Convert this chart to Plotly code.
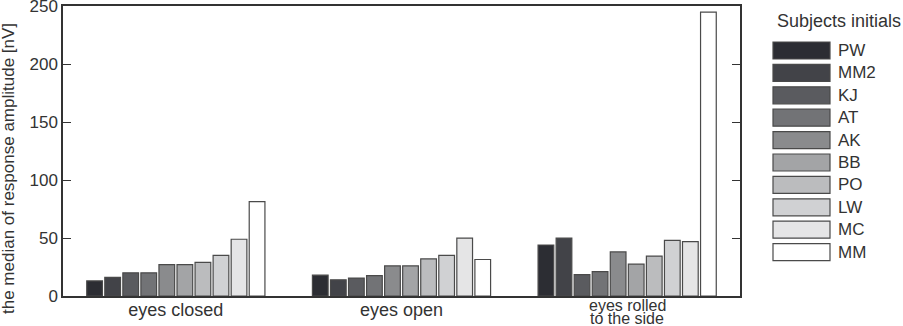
import plotly.graph_objects as go

categories = ["eyes closed", "eyes open", "eyes rolled"]
tick_text = ["eyes closed", "eyes open", ""]
rolled_lines = ["eyes rolled", "to the side"]
subjects = ["PW", "MM2", "KJ", "AT", "AK", "BB", "PO", "LW", "MC", "MM"]
values = {
    "PW":  [13, 18, 44],
    "MM2": [16, 14, 50],
    "KJ":  [20, 15.5, 18.5],
    "AT":  [20, 17.5, 21],
    "AK":  [27, 26, 38],
    "BB":  [27, 26, 27.5],
    "PO":  [29, 32, 34.5],
    "LW":  [35, 35, 48],
    "MC":  [49, 50, 47],
    "MM":  [81.5, 31.5, 245],
}
colors = ["#2c2d33", "#424348", "#5a5b5f", "#727376", "#8a8b8d",
          "#a3a4a6", "#bbbcbe", "#d0d1d3", "#e5e5e6", "#ffffff"]
y_ticks = [0, 50, 100, 150, 200, 250]
y_title = "the median of response amplitude [nV]"
legend_title = "Subjects initials"

W, H = 903, 326
ML, MR, MT, MB = 63, 163, 6, 30
PW_ = W - ML - MR
PH_ = H - MT - MB

def px_x(x):
    return (x - ML) / PW_

def px_y(y):
    return (H - MB - y) / PH_

fig = go.Figure()
for s, c in zip(subjects, colors):
    fig.add_trace(go.Bar(
        x=categories, y=values[s], name=s,
        marker=dict(color=c, line=dict(color="#4a4a4a", width=1.2)),
        showlegend=False,
    ))

axis_col = "#333333"
fig.update_layout(
    width=W, height=H,
    margin=dict(l=ML, r=MR, t=MT, b=MB, autoexpand=False),
    paper_bgcolor="white", plot_bgcolor="white",
    barmode="group", bargap=0.2, bargroupgap=0.13,
    font=dict(family="Liberation Sans, Arial", color=axis_col),
    xaxis=dict(
        showline=True, linecolor=axis_col, linewidth=1.5, mirror=True,
        ticks="", showgrid=False, tickfont=dict(size=18),
        tickmode="array", tickvals=categories, ticktext=tick_text,
        ticklabelstandoff=-3, automargin=False,
        range=[-0.5, 2.5],
    ),
    yaxis=dict(
        range=[0, 250.3], tickvals=y_ticks,
        showline=True, linecolor=axis_col, linewidth=1.5, mirror="ticks",
        ticks="inside", ticklen=8, tickcolor=axis_col, tickwidth=1.2,
        showgrid=False, zeroline=False, tickfont=dict(size=17),
        ticklabeloverflow="allow", automargin=False,
    ),
)

annotations = []
shapes = []
# y-axis title (sits lower than the plot centre in the reference)
annotations.append(dict(
    x=px_x(8.5), y=px_y(168.5), xref="paper", yref="paper",
    xanchor="center", yanchor="middle", textangle=-90,
    text=y_title, showarrow=False, font=dict(size=17),
))
# two-line label of the third category
for line, shift in zip(rolled_lines, [1, -11.5]):
    annotations.append(dict(
        x=categories[2], y=0, xref="x", yref="paper", yanchor="top",
        yshift=shift, text=line, showarrow=False, font=dict(size=16),
    ))
# legend
annotations.append(dict(
    x=px_x(775), y=px_y(21), xref="paper", yref="paper",
    xanchor="left", yanchor="middle", text=legend_title,
    showarrow=False, font=dict(size=18),
))
for i, (s, c) in enumerate(zip(subjects, colors)):
    top = 42 + i * 22.4
    shapes.append(dict(
        type="rect", xref="paper", yref="paper",
        x0=px_x(773), x1=px_x(830), y0=px_y(top), y1=px_y(top + 17),
        fillcolor=c, line=dict(color="#4a4a4a", width=1.2),
    ))
    annotations.append(dict(
        x=px_x(836), y=px_y(top + 8.5), xref="paper", yref="paper",
        xanchor="left", yanchor="middle", text=s,
        showarrow=False, font=dict(size=17),
    ))

fig.update_layout(annotations=annotations, shapes=shapes)
fig.write_html("out.html")
